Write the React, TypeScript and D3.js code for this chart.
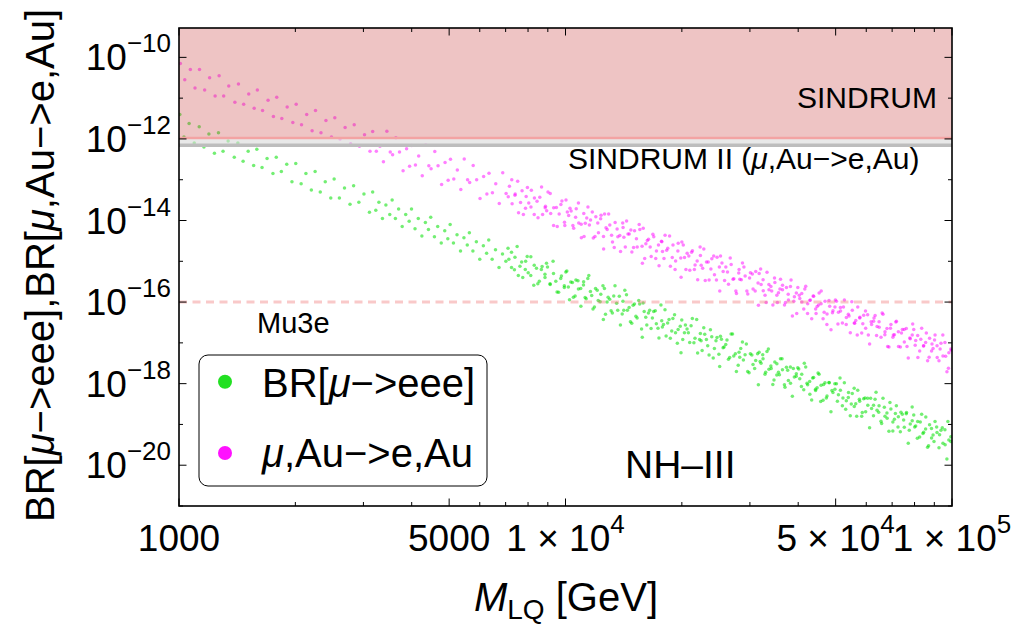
import React from "react";
import * as d3 from "d3";

// ---------- data (M in GeV, log10 of branching ratio) ----------
const greenPointsA: [number, number][] = [
  [1005,-11.40],[1030,-11.95],[1062,-11.62],[1095,-12.10],
  [1128,-11.70],[1160,-12.20],[1195,-11.88],[1235,-12.35],
  [1265,-11.85],[1300,-12.30],[1340,-12.05],[1390,-12.45],
  [1420,-12.10],[1465,-12.55],[1510,-12.30],[1560,-12.65],
  [1590,-12.25],[1640,-12.70],[1690,-12.48],[1750,-12.85],
  [1785,-12.45],[1840,-12.80],[1900,-12.62],[1960,-13.05],
  [2005,-12.60],[2070,-13.10],[2130,-12.85],[2200,-13.25],
  [2250,-12.80],[2320,-13.30],[2390,-13.05],[2470,-13.45],
  [2520,-12.98],[2600,-13.45],[2680,-13.20],[2770,-13.60],
  [2830,-13.15],[2920,-13.55],[3010,-13.35],[3110,-13.80],
  [3170,-13.30],[3230,-13.75],[3290,-13.55],[3360,-13.95],[3430,-13.62],[3510,-13.85],
  [3560,-13.50],[3630,-13.95],[3700,-13.72],[3780,-14.15],[3860,-13.85],[3940,-14.02],
  [3995,-13.72],[4080,-14.20],[4160,-13.95],[4250,-14.38],[4340,-14.05],[4420,-14.22],
  [4480,-13.92],[4580,-14.40],[4670,-14.15],[4770,-14.55],[4870,-14.25],[4960,-14.45],
  [5030,-14.10],[5130,-14.55],[5240,-14.35],[5350,-14.75],[5460,-14.42],[5570,-14.60],
  [5640,-14.30],[5760,-14.75],[5880,-14.52],[6000,-14.95],[6130,-14.62],[6250,-14.80],
  [6330,-14.48],[6460,-14.95],[6590,-14.72],[6730,-15.15],[6870,-14.82],[7010,-15.00],
  [7100,-14.68],[7250,-15.15],[7400,-14.90],[7550,-15.35],[7700,-15.02],[7870,-15.20],
  [7960,-14.88],[8130,-15.35],[8300,-15.10],[8480,-15.55],[8660,-15.20],[8850,-15.40],
  [8930,-15.05],[9120,-15.55],[9310,-15.30],[9510,-15.75],[9720,-15.42],[9930,-15.60],
  [10020,-15.26],[10170,-15.63],[10320,-15.51],[10480,-15.88],[10640,-15.46],[10800,-15.68],[10960,-16.10],[11130,-15.58],
  [11240,-15.89],[11420,-15.42],[11600,-15.74],[11780,-16.17],[11960,-15.67],[12150,-15.96],[12340,-15.81],[12530,-16.43],
  [12610,-15.67],[12810,-16.00],[13010,-15.93],[13220,-16.27],[13430,-15.60],[13650,-16.20],[13870,-16.56],[14080,-15.98],
  [14150,-16.20],[14380,-15.82],[14610,-16.13],[14840,-16.52],[15080,-16.05],[15320,-16.39],[15560,-16.05],[15800,-16.86],
  [15880,-16.02],[16130,-16.37],[16390,-16.27],[16650,-16.65],[16910,-16.23],[17180,-16.53],[17450,-16.88],[17740,-16.46],
  [17810,-16.61],[18090,-16.19],[18380,-16.51],[18670,-16.89],[18960,-16.40],[19260,-16.75],[19560,-16.67],[19900,-17.24],
  [19990,-16.44],[20310,-16.75],[20630,-16.66],[20960,-16.99],[21290,-16.40],[21630,-16.89],[21970,-17.25],[22330,-16.77],
  [22430,-16.95],[22790,-16.63],[23150,-16.92],[23520,-17.30],[23900,-16.85],[24280,-17.14],[24660,-16.87],[25060,-17.58],
  [25170,-16.84],[25570,-17.12],[25980,-17.04],[26400,-17.40],[26820,-16.78],[27250,-17.32],[27680,-17.70],[28120,-17.23],
  [28240,-17.35],[28690,-16.98],[29150,-17.29],[29610,-17.70],[30080,-17.27],[30560,-17.53],[31050,-17.43],[31550,-18.03],
  [31690,-17.23],[32060,-17.50],[32440,-17.39],[32820,-17.77],[33210,-17.21],[33600,-17.65],[33990,-17.57],[34390,-18.02],[34800,-17.47],[35210,-17.79],
  [35560,-17.72],[35990,-17.39],[36420,-17.66],[36850,-18.03],[37290,-17.60],[37730,-17.92],[38180,-17.59],[38630,-18.31],[39090,-17.84],[39550,-17.76],
  [39900,-17.61],[40370,-17.88],[40850,-17.77],[41340,-18.15],[41830,-17.59],[42320,-18.03],[42830,-17.95],[43340,-18.40],[43850,-17.85],[44370,-18.17],
  [44770,-18.10],[45300,-17.77],[45840,-18.04],[46380,-18.41],[46930,-17.98],[47490,-18.30],[48050,-17.97],[48620,-18.69],[49200,-18.22],[49780,-18.14],
  [50230,-18.00],[50830,-18.27],[51430,-18.16],[52040,-18.54],[52660,-17.98],[53280,-18.42],[53910,-18.34],[54550,-18.79],[55200,-18.24],[55860,-18.56],
  [56360,-18.49],[57030,-18.16],[57700,-18.43],[58390,-18.80],[59080,-18.37],[59780,-18.69],[60490,-18.36],[61200,-19.08],[61930,-18.61],[62660,-18.53],
  [63240,-18.38],[63990,-18.65],[64750,-18.54],[65510,-18.92],[66290,-18.36],[67080,-18.80],[67870,-18.72],[68680,-19.17],[69490,-18.62],[70310,-18.94],
  [70950,-18.87],[71790,-18.54],[72640,-18.81],[73510,-19.18],[74380,-18.75],[75260,-19.07],[76150,-18.74],[77060,-19.46],[77970,-18.99],[78890,-18.91],
  [79610,-18.77],[80550,-19.04],[81510,-18.93],[82480,-19.31],[83460,-18.75],[84450,-19.19],[85450,-19.11],[86460,-19.56],[87490,-19.01],[88530,-19.33],
  [89330,-19.26],[90390,-18.93],[91460,-19.20],[92540,-19.57],[93640,-19.14],[94750,-19.46],[95870,-19.13],[97010,-19.85],[98150,-19.38],[99310,-19.30],
];

const greenPointsB: [number, number][] = [
  [7136,-14.95],[7249,-14.78],[7376,-15.21],[7497,-14.64],[7624,-15.12],[7752,-15.40],[7886,-15.00],
  [8007,-15.28],[8134,-14.89],[8277,-15.59],[8412,-15.17],[8555,-15.49],[8698,-15.13],[8848,-15.32],
  [8984,-15.14],[9127,-15.57],[9287,-15.00],[9439,-15.49],[9599,-15.76],[9760,-15.36],[9929,-15.64],
  [10080,-15.24],[10240,-15.94],[10420,-15.52],[10590,-15.85],[10770,-15.48],[10950,-15.67],[11140,-15.50],
  [11310,-15.92],[11490,-15.35],[11690,-15.84],[11880,-16.12],[12080,-15.71],[12290,-15.99],[12500,-15.60],
  [12690,-16.30],[12890,-15.88],[13120,-16.21],[13330,-15.85],[13560,-16.03],[13780,-15.86],[14020,-16.29],
  [14240,-15.71],[14460,-16.20],[14720,-16.48],[14960,-16.08],[15210,-16.35],[15470,-15.96],[15730,-16.66],
  [15980,-16.23],[16230,-16.56],[16510,-16.20],[16780,-16.39],[17070,-16.21],[17350,-16.64],[17660,-16.07],
  [17930,-16.55],[18210,-16.83],[18530,-16.43],[18830,-16.71],[19150,-16.31],[19470,-17.01],[19810,-16.59],
  [20110,-16.92],[20430,-16.56],[20790,-16.75],[21130,-16.58],[21490,-17.00],[21850,-16.43],[22230,-16.92],
  [22570,-17.19],[22920,-16.79],[23330,-17.07],[23710,-16.68],[24110,-17.37],[24510,-16.95],[24940,-17.28],
  [25320,-16.91],[25720,-17.10],[26170,-16.93],[26600,-17.36],[27050,-16.78],[27510,-17.27],[27980,-17.55],
  [28410,-17.14],[28860,-17.42],[29370,-17.03],[29850,-17.73],[30350,-17.30],[30860,-17.63],[31400,-17.27],
  [31880,-17.46],[32380,-17.29],[32950,-17.72],[33490,-17.15],[34060,-17.63],[34630,-17.91],[35230,-17.51],
  [35770,-17.78],[36330,-17.39],[36970,-18.09],[37570,-17.67],[38210,-17.99],[38850,-17.63],[39530,-17.82],
  [40130,-17.64],[40770,-18.07],[41480,-17.50],[42160,-17.99],[42880,-18.26],[43590,-17.86],[44350,-18.14],
  [45030,-17.74],[45740,-18.44],[46540,-18.02],[47300,-18.35],[48110,-17.98],[48910,-18.17],[49760,-18.00],
  [50520,-18.43],[51320,-17.86],[52220,-18.35],[53080,-18.63],[53980,-18.22],[54880,-18.50],[55830,-18.11],
  [56680,-18.80],[57580,-18.38],[58600,-18.71],[59550,-18.35],[60560,-18.53],[61580,-18.36],[62640,-18.79],
  [63600,-18.21],[64610,-18.70],[65750,-18.98],[66820,-18.58],[67950,-18.85],[69090,-18.46],[70290,-19.16],
  [71360,-18.73],[72490,-19.06],[73770,-18.70],[74970,-18.89],[76250,-18.71],[77520,-19.14],[78870,-18.57],
  [80070,-19.06],[81340,-19.34],[82770,-18.94],[84120,-19.22],[85550,-18.82],[86980,-19.52],[88490,-19.10],
  [89840,-19.42],[91260,-19.06],[92870,-19.25],[94380,-19.08],[95990,-19.50],[97590,-18.93],[99280,-19.42],
];

const magentaPointsA: [number, number][] = [
  [1008,-10.15],[1035,-10.55],[1070,-10.30],[1100,-10.75],
  [1130,-10.30],[1165,-10.80],[1200,-10.50],[1240,-10.95],
  [1270,-10.45],[1305,-10.95],[1345,-10.70],[1395,-11.10],
  [1425,-10.65],[1470,-11.15],[1515,-10.90],[1565,-11.25],
  [1595,-10.80],[1645,-11.30],[1700,-11.05],[1755,-11.45],
  [1790,-10.98],[1845,-11.50],[1905,-11.22],[1970,-11.60],
  [2010,-11.15],[2075,-11.65],[2140,-11.40],[2210,-11.80],
  [2255,-11.30],[2330,-11.85],[2400,-11.55],[2480,-11.95],
  [2530,-11.48],[2610,-12.00],[2690,-11.72],[2780,-12.12],
  [2840,-11.65],[2930,-12.18],[3020,-11.90],[3120,-12.30],
  [3170,-11.82],[3240,-12.30],[3310,-12.18],[3380,-12.56],[3450,-11.81],[3520,-12.32],
  [3570,-12.39],[3640,-11.97],[3720,-12.32],[3800,-12.78],[3880,-12.24],[3950,-12.67],
  [4000,-12.16],[4090,-12.64],[4170,-12.42],[4260,-12.90],[4350,-12.15],[4430,-12.66],
  [4490,-12.73],[4590,-12.31],[4680,-12.66],[4780,-13.12],[4880,-12.58],[4970,-13.01],
  [5040,-12.50],[5140,-12.98],[5250,-12.76],[5360,-13.24],[5470,-12.49],[5580,-13.00],
  [5650,-13.07],[5770,-12.65],[5890,-13.00],[6010,-13.46],[6140,-12.92],[6260,-13.35],
  [6340,-12.84],[6470,-13.32],[6600,-13.10],[6740,-13.58],[6880,-12.83],[7020,-13.34],
  [7110,-13.42],[7260,-13.00],[7410,-13.35],[7560,-13.81],[7720,-13.27],[7880,-13.70],
  [7970,-13.19],[8140,-13.67],[8310,-13.45],[8490,-13.93],[8670,-13.18],[8860,-13.69],
  [8940,-13.76],[9130,-13.34],[9320,-13.69],[9520,-14.15],[9730,-13.61],[9940,-14.04],
  [10030,-13.50],[10190,-13.88],[10340,-13.77],[10500,-14.19],[10660,-13.71],[10820,-14.06],[10990,-14.42],[11150,-13.83],
  [11250,-14.07],[11430,-13.67],[11610,-13.99],[11800,-14.43],[11980,-13.91],[12170,-14.30],[12360,-13.87],[12550,-14.70],
  [12620,-13.84],[12820,-14.22],[13020,-14.11],[13230,-14.53],[13440,-14.05],[13660,-14.40],[13880,-14.76],[14090,-14.17],
  [14160,-14.41],[14390,-14.01],[14620,-14.33],[14850,-14.77],[15090,-14.25],[15330,-14.65],[15570,-14.22],[15810,-15.05],
  [15890,-14.19],[16140,-14.57],[16400,-14.46],[16660,-14.88],[16920,-14.40],[17190,-14.75],[17460,-15.11],[17750,-14.52],
  [17820,-14.76],[18100,-14.36],[18390,-14.68],[18680,-15.12],[18970,-14.60],[19270,-14.99],[19570,-14.56],[19910,-15.39],
  [20000,-14.53],[20320,-14.91],[20640,-14.80],[20970,-15.22],[21300,-14.74],[21640,-15.09],[21980,-15.45],[22340,-14.86],
  [22440,-15.10],[22800,-14.70],[23160,-15.02],[23530,-15.46],[23910,-14.94],[24290,-15.33],[24670,-14.90],[25070,-15.73],
  [25180,-14.87],[25580,-15.25],[25990,-15.14],[26410,-15.56],[26830,-15.08],[27260,-15.43],[27690,-15.79],[28130,-15.20],
  [28250,-15.44],[28700,-15.04],[29160,-15.36],[29620,-15.80],[30090,-15.28],[30570,-15.68],[31060,-15.25],[31560,-16.08],
  [31700,-15.30],[32070,-15.57],[32450,-15.45],[32830,-15.83],[33220,-15.27],[33610,-15.70],[34000,-15.62],[34400,-16.07],[34810,-15.52],[35220,-15.83],
  [35570,-15.77],[36000,-15.44],[36430,-15.70],[36860,-16.07],[37300,-15.64],[37740,-15.95],[38190,-15.62],[38640,-16.34],[39100,-15.87],[39560,-15.78],
  [39910,-15.64],[40380,-15.91],[40860,-15.79],[41350,-16.17],[41840,-15.61],[42330,-16.04],[42840,-15.96],[43350,-16.41],[43860,-15.86],[44380,-16.17],
  [44780,-16.11],[45310,-15.78],[45850,-16.04],[46390,-16.41],[46940,-15.98],[47500,-16.29],[48060,-15.96],[48630,-16.68],[49210,-16.21],[49790,-16.12],
  [50240,-15.98],[50840,-16.25],[51440,-16.13],[52050,-16.51],[52670,-15.95],[53290,-16.38],[53920,-16.30],[54560,-16.75],[55210,-16.20],[55870,-16.51],
  [56370,-16.45],[57040,-16.12],[57710,-16.39],[58400,-16.76],[59090,-16.32],[59790,-16.64],[60500,-16.31],[61210,-17.03],[61940,-16.55],[62670,-16.47],
  [63250,-16.33],[64000,-16.60],[64760,-16.48],[65520,-16.86],[66300,-16.30],[67090,-16.73],[67880,-16.65],[68690,-17.10],[69500,-16.55],[70320,-16.86],
  [70960,-16.80],[71800,-16.47],[72650,-16.73],[73520,-17.10],[74390,-16.67],[75270,-16.98],[76160,-16.65],[77070,-17.37],[77980,-16.90],[78900,-16.81],
  [79620,-16.67],[80560,-16.94],[81520,-16.82],[82490,-17.20],[83470,-16.64],[84460,-17.07],[85460,-16.99],[86470,-17.44],[87500,-16.89],[88540,-17.20],
  [89340,-17.14],[90400,-16.81],[91470,-17.07],[92550,-17.44],[93650,-17.01],[94760,-17.32],[95880,-16.99],[97020,-17.71],[98160,-17.24],[99320,-17.15],
];

const magentaPointsB: [number, number][] = [
  [7160,-13.16],[7275,-13.59],[7400,-13.38],[7520,-13.04],[7650,-13.56],[7780,-13.85],[7910,-13.41],
  [8035,-13.57],[8160,-13.26],[8300,-13.85],[8440,-13.53],[8580,-13.43],[8725,-13.85],[8875,-13.65],
  [9010,-13.30],[9155,-13.83],[9315,-14.12],[9470,-13.68],[9630,-13.84],[9790,-13.52],[9960,-14.12],
  [10110,-13.79],[10270,-13.70],[10450,-14.12],[10620,-13.92],[10800,-13.57],[10980,-14.09],[11170,-14.39],
  [11350,-13.94],[11530,-14.11],[11730,-13.79],[11920,-14.39],[12120,-14.06],[12330,-13.96],[12540,-14.39],
  [12730,-14.18],[12930,-13.84],[13160,-14.36],[13370,-14.66],[13600,-14.21],[13820,-14.37],[14060,-14.06],
  [14280,-14.65],[14510,-14.33],[14760,-14.23],[15000,-14.66],[15260,-14.45],[15510,-14.10],[15780,-14.63],
  [16030,-14.93],[16280,-14.49],[16560,-14.65],[16830,-14.34],[17120,-14.93],[17400,-14.60],[17710,-14.51],
  [17980,-14.93],[18270,-14.73],[18590,-14.38],[18890,-14.91],[19210,-15.20],[19530,-14.75],[19870,-14.92],
  [20170,-14.60],[20490,-15.20],[20850,-14.87],[21190,-14.78],[21550,-15.20],[21910,-14.99],[22300,-14.65],
  [22640,-15.17],[22990,-15.47],[23400,-15.02],[23780,-15.19],[24180,-14.87],[24580,-15.46],[25010,-15.14],
  [25400,-15.04],[25800,-15.47],[26250,-15.26],[26680,-14.92],[27130,-15.44],[27590,-15.73],[28070,-15.29],
  [28500,-15.45],[28950,-15.14],[29460,-15.73],[29940,-15.41],[30440,-15.31],[30960,-15.73],[31490,-15.53],
  [31980,-15.19],[32480,-15.72],[33050,-16.01],[33590,-15.57],[34160,-15.73],[34740,-15.41],[35340,-16.01],
  [35880,-15.68],[36440,-15.59],[37080,-16.01],[37690,-15.81],[38330,-15.46],[38970,-15.98],[39650,-16.28],
  [40250,-15.83],[40890,-16.00],[41610,-15.68],[42290,-16.28],[43010,-15.95],[43730,-15.85],[44490,-16.28],
  [45170,-16.07],[45880,-15.73],[46690,-16.25],[47450,-16.55],[48260,-16.10],[49060,-16.26],[49910,-15.95],
  [50680,-16.54],[51480,-16.22],[52380,-16.12],[53250,-16.55],[54150,-16.34],[55050,-15.99],[56000,-16.52],
  [56860,-16.81],[57760,-16.37],[58780,-16.53],[59740,-16.22],[60750,-16.81],[61770,-16.48],[62840,-16.39],
  [63800,-16.82],[64810,-16.62],[65960,-16.27],[67030,-16.80],[68160,-17.09],[69310,-16.64],[70510,-16.81],
  [71590,-16.49],[72720,-17.09],[74000,-16.76],[75210,-16.67],[76490,-17.09],[77770,-16.88],[79120,-16.54],
  [80320,-17.06],[81600,-17.36],[83030,-16.91],[84390,-17.08],[85820,-16.76],[87260,-17.35],[88770,-17.03],
  [90120,-16.93],[91550,-17.36],[93170,-17.15],[94680,-16.81],[96290,-17.33],[97900,-17.62],[99590,-17.18],
];

const greenPoints = [...greenPointsA, ...greenPointsB];
const magentaPoints = [...magentaPointsA, ...magentaPointsB];

const xMajorTicks = [1000, 5000, 10000, 50000, 100000];
const xMinorTicks = [2000, 3000, 4000, 6000, 7000, 8000, 9000, 20000, 30000, 40000, 60000, 70000, 80000, 90000];
const yMajorExps = [-20, -18, -16, -14, -12, -10];
const yMinorExps = [-21, -19, -17, -15, -13, -11];

const sindrumLimit = 1e-12;
const sindrum2Limit = 7e-13;
const mu3eLimit = 1e-16;

const FONT = "'Liberation Sans', Arial, Helvetica, sans-serif";
const W = 1017, H = 631;
const L = 179, R = 952, T = 28, B = 506;

export default function App() {
  const x = d3.scaleLog().domain([1000, 100000]).range([L, R]);
  const y = d3.scaleLog().domain([1e-21, Math.pow(10, -9.28)]).range([B, T]);

  const xLabel = (v: number) => {
    if (v === 1000) return <>1000</>;
    if (v === 5000) return <>5000</>;
    const e = Math.floor(Math.log10(v) + 1e-9);
    const m = Math.round(v / Math.pow(10, e));
    return (
      <>
        {m} × 10<tspan dy={-18} fontSize={26}>{e}</tspan>
      </>
    );
  };

  return (
    <svg width={W} height={H} style={{ position: "absolute", left: 0, top: 0, background: "#fff" }} fontFamily={FONT}>
      <defs>
        <clipPath id="plotClip">
          <rect x={L} y={T} width={R - L} height={B - T} />
        </clipPath>
      </defs>
      <rect x={0} y={0} width={W} height={H} fill="#fff" />

      <g clipPath="url(#plotClip)">
        {magentaPoints.map(([m, e], i) => (
          <circle key={"m" + i} cx={x(m)} cy={y(Math.pow(10, e))} r={1.75} fill="#ff00ff" fillOpacity={0.5} />
        ))}
        {greenPoints.map(([m, e], i) => (
          <circle key={"g" + i} cx={x(m)} cy={y(Math.pow(10, e))} r={1.75} fill="#00e000" fillOpacity={0.55} />
        ))}
        {/* SINDRUM excluded band */}
        <rect x={L} y={T} width={R - L} height={y(sindrumLimit) - T} fill="rgb(200,60,60)" fillOpacity={0.3} />
        {/* SINDRUM II */}
        <rect x={L} y={y(sindrumLimit)} width={R - L} height={y(sindrum2Limit) - y(sindrumLimit)} fill="#d8d8d8" fillOpacity={0.6} />
        <line x1={L} x2={R} y1={y(sindrum2Limit)} y2={y(sindrum2Limit)} stroke="#bdbdbd" strokeWidth={3.4} />
        <line x1={L} x2={R} y1={y(sindrumLimit) - 1} y2={y(sindrumLimit) - 1} stroke="#f3a3a3" strokeWidth={2.6} />
        {/* Mu3e */}
        <line x1={L} x2={R} y1={y(mu3eLimit)} y2={y(mu3eLimit)} stroke="rgb(240,120,120)" strokeOpacity={0.4} strokeWidth={3} strokeDasharray="8,5.5" />
      </g>

      {/* frame */}
      <rect x={L} y={T} width={R - L} height={B - T} fill="none" stroke="#000" strokeWidth={1.6} />

      {/* x ticks */}
      {xMajorTicks.map((v) => (
        <g key={"xM" + v}>
          <line x1={x(v)} x2={x(v)} y1={B} y2={B - 7.5} stroke="#000" strokeWidth={1} />
          <line x1={x(v)} x2={x(v)} y1={T} y2={T + 7.5} stroke="#000" strokeWidth={1} />
          <text x={x(v)} y={551} textAnchor="middle" fontSize={37} fill="#000">{xLabel(v)}</text>
        </g>
      ))}
      {xMinorTicks.map((v) => (
        <g key={"xm" + v}>
          <line x1={x(v)} x2={x(v)} y1={B} y2={B - 4} stroke="#000" strokeWidth={1} />
          <line x1={x(v)} x2={x(v)} y1={T} y2={T + 4} stroke="#000" strokeWidth={1} />
        </g>
      ))}

      {/* y ticks */}
      {yMajorExps.map((e) => {
        const yy = y(Math.pow(10, e));
        return (
          <g key={"yM" + e}>
            <line x1={L} x2={L + 7.5} y1={yy} y2={yy} stroke="#000" strokeWidth={1} />
            <line x1={R} x2={R - 7.5} y1={yy} y2={yy} stroke="#000" strokeWidth={1} />
            <text x={171} y={yy + 13} textAnchor="end" fontSize={37} fill="#000">
              10<tspan dy={-18} fontSize={26}>{"\u2212" + Math.abs(e)}</tspan>
            </text>
          </g>
        );
      })}
      {yMinorExps.map((e) => {
        const yy = y(Math.pow(10, e));
        return (
          <g key={"ym" + e}>
            <line x1={L} x2={L + 4} y1={yy} y2={yy} stroke="#000" strokeWidth={1} />
            <line x1={R} x2={R - 4} y1={yy} y2={yy} stroke="#000" strokeWidth={1} />
          </g>
        );
      })}

      {/* axis titles */}
      <text transform="translate(53.5,265.5) rotate(-90)" textAnchor="middle" fontSize={40} fill="#000">
        BR[<tspan fontStyle="italic">μ</tspan>{"\u2212>eee],BR["}<tspan fontStyle="italic">μ</tspan>{",Au\u2212>e,Au]"}
      </text>
      <text x={566} y={611} textAnchor="middle" fontSize={40} fill="#000">
        <tspan fontStyle="italic">M</tspan>
        <tspan dy={8} fontSize={28}>LQ</tspan>
        <tspan dy={-8}> [GeV]</tspan>
      </text>

      {/* annotations */}
      <text x={937} y={108} textAnchor="end" fontSize={30} fill="#000">SINDRUM</text>
      <text x={568} y={168.5} fontSize={30} fill="#000">
        SINDRUM II (<tspan fontStyle="italic">μ</tspan>{",Au\u2212>e,Au)"}
      </text>
      <text x={257} y={333} fontSize={29} fill="#000">Mu3e</text>
      <text x={625} y={478} fontSize={39} fill="#000">NH–III</text>

      {/* legend */}
      <rect x={199} y={355} width={288} height={131} rx={9} ry={9} fill="#fff" stroke="#000" strokeWidth={1} />
      <circle cx={225} cy={381.7} r={7} fill="#22e022" />
      <circle cx={225} cy={453} r={7} fill="#ff11ff" />
      <text x={262} y={396.5} fontSize={40} fill="#000">
        BR[<tspan fontStyle="italic">μ</tspan>{"\u2212>eee]"}
      </text>
      <text x={262} y={466.7} fontSize={40} fill="#000">
        <tspan fontStyle="italic">μ</tspan>{",Au\u2212>e,Au"}
      </text>
    </svg>
  );
}
